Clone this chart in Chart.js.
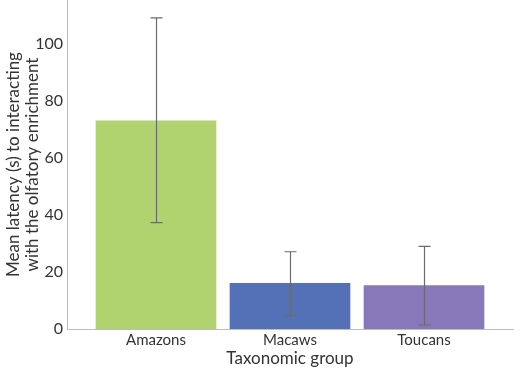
<!DOCTYPE html>
<html>
<head>
<meta charset="utf-8">
<script src="https://cdn.jsdelivr.net/npm/chart.js@4"></script>
<style>
  html, body { margin: 0; padding: 0; background: #fff; }
  #wrap { width: 522px; height: 378px; }
</style>
</head>
<body>
<div id="wrap"><canvas id="grafico"></canvas></div>
<script>
// datos
const grupos = ['Amazons', 'Macaws', 'Toucans'];
const medias = [73, 16, 15.2];
const errInf = [37.3, 4.7, 1.4];
const errSup = [109.1, 27.1, 29.0];
const colores = ['#b1d36f', '#5470b6', '#8779b9'];
const ticksY = [0, 20, 40, 60, 80, 100];

const fuente = "'Lato', 'Open Sans', sans-serif";

// barras de error
const barrasError = {
  id: 'barrasError',
  afterDatasetsDraw(chart) {
    const ctx = chart.ctx;
    const x = chart.scales.x, y = chart.scales.y;
    ctx.save();
    ctx.strokeStyle = '#6b6b6b';
    ctx.lineWidth = 1.2;
    grupos.forEach((g, i) => {
      const px = Math.round(x.getPixelForValue(i)) + 0.5;
      const y1 = y.getPixelForValue(errSup[i]);
      const y2 = y.getPixelForValue(errInf[i]);
      ctx.beginPath();
      ctx.moveTo(px, y1); ctx.lineTo(px, y2);
      ctx.moveTo(px - 6, y1); ctx.lineTo(px + 6, y1);
      ctx.moveTo(px - 6, y2); ctx.lineTo(px + 6, y2);
      ctx.stroke();
    });
    ctx.restore();
  }
};

const datos = grupos.map((g, i) => ({ x: i, y: medias[i] }));

new Chart(document.getElementById('grafico').getContext('2d'), {
  type: 'bar',
  data: {
    datasets: [{
      data: datos,
      backgroundColor: colores,
      borderWidth: 0,
      barThickness: 120
    }]
  },
  plugins: [barrasError],
  options: {
    responsive: true,
    maintainAspectRatio: false,
    animation: false,
    layout: { padding: { top: 0, right: 9, left: 0, bottom: 0 } },
    plugins: { legend: { display: false }, tooltip: { enabled: false } },
    scales: {
      x: {
        type: 'linear',
        offset: false,
        min: -0.664,
        max: 2.664,
        grid: { display: false, drawTicks: false },
        border: { color: '#bdbdbd', width: 1 },
        afterBuildTicks(axis) {
          axis.ticks = grupos.map((g, i) => ({ value: i }));
        },
        afterFit(axis) {
          axis.height = 49;
          axis.paddingLeft = 0;
          axis.paddingRight = 0;
        },
        ticks: {
          autoSkip: false,
          padding: 2,
          color: '#333',
          font: { family: fuente, size: 15 },
          callback: (v) => grupos[v] !== undefined ? grupos[v] : ''
        },
        title: {
          display: true,
          text: 'Taxonomic group',
          color: '#333',
          font: { family: fuente, size: 17 },
          padding: { top: 0, bottom: 9 }
        }
      },
      y: {
        min: 0,
        max: 115.4,
        grid: { display: false, drawTicks: false },
        border: { color: '#bdbdbd', width: 1 },
        afterBuildTicks(axis) {
          axis.ticks = ticksY.map(v => ({ value: v }));
        },
        afterFit(axis) {
          axis.width = 67;
          axis.paddingTop = 0;
          axis.paddingBottom = 0;
        },
        ticks: {
          padding: 4,
          color: '#333',
          font: { family: fuente, size: 16 }
        },
        title: {
          display: true,
          text: ['Mean latency (s) to interacting', 'with the olfatory enrichment'],
          color: '#333',
          font: { family: fuente, size: 17, lineHeight: 1.1 },
          padding: { top: 4, bottom: 0 }
        }
      }
    }
  }
});
</script>
</body>
</html>
